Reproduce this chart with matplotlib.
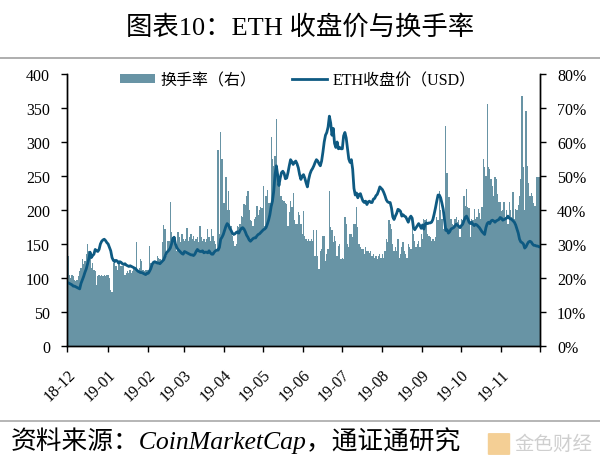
import matplotlib
matplotlib.use('Agg')
import matplotlib.pyplot as plt
from matplotlib.lines import Line2D
from matplotlib.patches import Patch, FancyBboxPatch
from matplotlib.ticker import FuncFormatter, MultipleLocator
import pandas as pd

# ---------------- data ----------------
# ETH close price (USD), daily, 2018-12-01 .. 2019-11-30
price_dec = [93,92,91,90,88, 88,87,86,85,84, 92,97,102,108,113, 120,128,138,130,133,
             135,142,140,139,142, 150,154,156,157,155, 152]
price_jan = [150,145,140,130,126, 124,126,125,122,124, 123,121,120,121,119, 118,117,118,117,116,
             115,114,112,110,109, 108,108,107,106,105, 107]
price_feb = [107,110,114,120,123, 124,123,122,122,121, 123,125,127,132,137, 139,141,144,150,158,
             160,150,145,142,140, 138,136,135]
price_mar = [139,138,137,136,135, 134,134,133,135,139, 142,140,139,139,140, 137,138,138,137,140,
             137,135,135,138,140, 141,141,145,157,160, 164]
price_apr = [170,176,180,178,173, 170,166,164,165,167, 168,166,170,173,174, 172,168,163,160,156,
             154,156,158,159,159, 162,164,165,167,169]
price_may = [171,172,174,179,185, 193,205,213,228,252, 265,252,236,247,255, 257,254,246,247,255,
             265,274,271,267,270, 272,268,262,252,245, 250]
price_jun = [252,247,240,234,245, 253,258,261,265,270, 274,272,268,265,272, 285,300,310,314,322,
             338,328,310,320,298, 292,300,290,292,290]
price_jul = [290,309,314,306,290, 275,270,274,260,232, 222,225,218,223,224, 218,213,211,213,208,
             212,213,211,211,216, 217,221,223,228,234, 232]
price_aug = [230,226,221,215,212, 211,211,203,190,186, 191,195,201,200,198, 191,193,191,190,186,
             182,188,191,188,174, 171,174,177,180,177, 173]
price_sep = [178,172,179,181,180, 181,181,182,186,194, 203,213,222,222,218, 210,201,186,170,171,
             166,168,172,173,174, 176,179,178,176,174]
price_oct = [177,179,184,189,191, 187,182,180,182,179, 177,179,178,176,174, 171,168,166,164,174,
             180,182,180,184,185, 184,182,184,185,186, 189]
price_nov = [188,185,186,187,188, 191,188,187,186,184, 182,178,172,166,157, 153,152,150,144,146,
             150,153,154,153,150, 148,148,147,147,146]

# Turnover rate (%), daily
turn_dec = [26.5,21,20,21,20.5, 19.5,19,19.5,20.5,22, 23,25.5,24,25,27, 30,28,26.5,23,24.5,
            22.5,22,18,20.5,21, 20.5,21,20.5,21,20.5, 21]
turn_jan = [21,20,16.5,16,24.5, 25.5,23.5,22.5,24.5,24, 23.5,23.5,23.5,21,21.5, 22,21.5,22.5,21.5,22,
            23,23,30.5,22.5,23, 25.5,25,22.5,22,22.5, 22.5]
turn_feb = [22.5,29.5,24.5,24.5,24, 24.5,25,26.5,26,25.5, 24.5,30.5,35.5,34.5,26.5, 31,31,42.3,33.4,31.5,
            32,32,28,33.5,32, 30.5,33,31.5]
turn_mar = [31,31.5,34.6,31,32, 33,31.5,32.5,31,31.5, 32,30.5,35.4,32,31, 31.5,30.5,31.5,34.5,32,
            31,34.5,32.5,31,30, 28.5,57.5,33,62.8,55, 42]
turn_apr = [42,49.6,40,45.7,40, 35.4,32.5,31,29.5,30, 35.4,35,36,38.3,38, 41.8,41.5,44,45.7,40,
            37,36.9,35.4,37.5,38, 41.3,38.5,40,41,40.5]
turn_may = [47,35.4,44.2,46,42, 42,61.4,55,53,56, 66.8,52,50,44,44, 43,42.7,42,41.8,35.4,
            39.5,42.5,41,45,37, 35.9,36,39.3,38.5,36, 33]
turn_jun = [39.8,32.5,31.5,31,31.5, 31,31.5,31,34,26.5, 34,26.5,22.6,28,28.5, 32.5,32.5,25,27,28.5,
            45.7,34.9,34,30.5,32.5, 31,26.5,29.5,30,25.6]
turn_jul = [26,25.6,37.8,36,30, 29,33,33,32,36, 36,41,35,30,29, 28.5,28.5,27,29,28,
            28,27.5,28,26.5,27, 26,26.5,25.5,26.5,27, 26]
turn_aug = [27,26,28,31.5,30.5, 37,36,34.5,30,28, 29,28,31.5,26,27, 29,30.5,28,27,26,
            30,29,28.5,37,33, 31,29,30,31,29, 33]
turn_sep = [31.5,37.4,37,37.5,33, 32.5,32,31,31.5,31, 32,37.8,37,45.7,40, 37.4,34.4,35,64.8,51,
            43.7,43.7,37.4,36,35.5, 37.4,38,36.5,37,32]
turn_oct = [37.4,37,44.2,41.3,46.2, 41,40.5,32,37.4,37, 40.3,37.5,38,40.3,39, 37.4,41,55,52.5,50,
            71.2,52.5,52,49,47, 44.2,49.6,49,44.7,42.3, 42.3]
turn_nov = [39.8,40,42.3,38,40, 35.9,42.3,40,38,45.2, 37.4,40.3,40,41.5,44.2, 49,73.6,52.5,40,69,
            53,48,44.2,45,44, 42,41.3,49.6,49.6,49.6]

price = (price_dec + price_jan + price_feb + price_mar + price_apr + price_may +
         price_jun + price_jul + price_aug + price_sep + price_oct + price_nov)
turnover = (turn_dec + turn_jan + turn_feb + turn_mar + turn_apr + turn_may +
            turn_jun + turn_jul + turn_aug + turn_sep + turn_oct + turn_nov)

start_date = '2018-12-01'
end_date = '2019-12-01'
tick_labels = ['18-12', '19-01', '19-02', '19-03', '19-04', '19-05', '19-06',
               '19-07', '19-08', '19-09', '19-10', '19-11', '']

title = '图表10：ETH 收盘价与换手率'
source = '资料来源：CoinMarketCap，通证通研究'
bar_label = '换手率（右）'
line_label = 'ETH收盘价（USD）'

# ---------------- style ----------------
FAM = ['Liberation Serif', 'Noto Sans CJK SC', 'DejaVu Sans']
plt.rcParams['font.family'] = FAM
BAR_C = '#6894A5'
LINE_C = '#0E5A82'
TICK_FS = 11.5

dates = pd.date_range(start_date, periods=len(price), freq='D') + pd.Timedelta(hours=12)
month_ticks = pd.date_range(start_date, end_date, freq='MS')

W, H = 600, 460
fig = plt.figure(figsize=(W / 100, H / 100), dpi=100)
L, R, T, B = 67.4, 539.6, 75, 347
ax = fig.add_axes([L / W, 1 - B / H, (R - L) / W, (B - T) / H])

# bars on primary axes (right scale), line on twin (left scale) so the line is drawn on top
ax.bar(dates, turnover, width=1.0, color=BAR_C, linewidth=0, align='center')
ax2 = ax.twinx()
ax2.plot(dates, price, color=LINE_C, lw=2.0, solid_joinstyle='round')

ax.set_ylim(0, 80)
ax.yaxis.tick_right()
ax.yaxis.set_label_position('right')
ax.yaxis.set_major_locator(MultipleLocator(10))
ax.yaxis.set_major_formatter(FuncFormatter(lambda v, p: f'{int(v)}%'))
ax.set_xlim(pd.Timestamp(start_date), pd.Timestamp(end_date))
ax.set_xticks(month_ticks)
ax.set_xticklabels(tick_labels, rotation=45, ha='right', va='top', rotation_mode='anchor')

ax2.set_ylim(0, 400)
ax2.yaxis.tick_left()
ax2.yaxis.set_label_position('left')
ax2.yaxis.set_major_locator(MultipleLocator(50))
ax2.set_xlim(pd.Timestamp(start_date), pd.Timestamp(end_date))

for a in (ax, ax2):
    a.spines['top'].set_visible(False)
    for s in ('left', 'right', 'bottom'):
        a.spines[s].set_color('black')
        a.spines[s].set_linewidth(1.0)
    a.tick_params(axis='both', direction='out', length=4.5, width=1.0, colors='black',
                  labelsize=TICK_FS)
ax.tick_params(axis='x', pad=10)
ax.tick_params(axis='y', pad=8)
ax2.tick_params(axis='y', pad=8)
for lab in ax.get_xticklabels() + ax.get_yticklabels() + ax2.get_yticklabels():
    lab.set_fontfamily(FAM)

# legend
handles = [Patch(facecolor=BAR_C, edgecolor='none'),
           Line2D([0], [0], color=LINE_C, lw=2.0)]
fig.legend(handles, [bar_label, line_label], loc='center',
           bbox_to_anchor=(298 / W, 1 - 81 / H), ncol=2, frameon=False,
           prop={'family': FAM, 'size': 11.5}, handlelength=2.2, handleheight=0.55,
           columnspacing=2.2, handletextpad=0.35)

# title, rules, source
fig.text(0.5, 1 - 27.5 / H, title, ha='center', va='center', fontsize=19, family=FAM)
fig.add_artist(Line2D([0, 1], [1 - 59 / H] * 2, color='#a8a8a8', lw=1.3))
fig.add_artist(Line2D([0, 1], [1 - 422 / H] * 2, color='#b0b0b0', lw=1.3))
fig.text(11 / W, 1 - 441 / H, source, ha='left', va='center', fontsize=18.5,
         style='italic', family=FAM)

# watermark logo (bottom-right)
fig.add_artist(FancyBboxPatch((489 / W, 1 - 455 / H), 20 / W, 20 / H,
                              boxstyle='round,pad=0.002', transform=fig.transFigure,
                              facecolor='#f4cf95', edgecolor='none'))
fig.text(514 / W, 1 - 445 / H, '金色财经', ha='left', va='center', fontsize=14,
         color='#cfcfcf', family=FAM)

fig.savefig('out.png', dpi=100)
